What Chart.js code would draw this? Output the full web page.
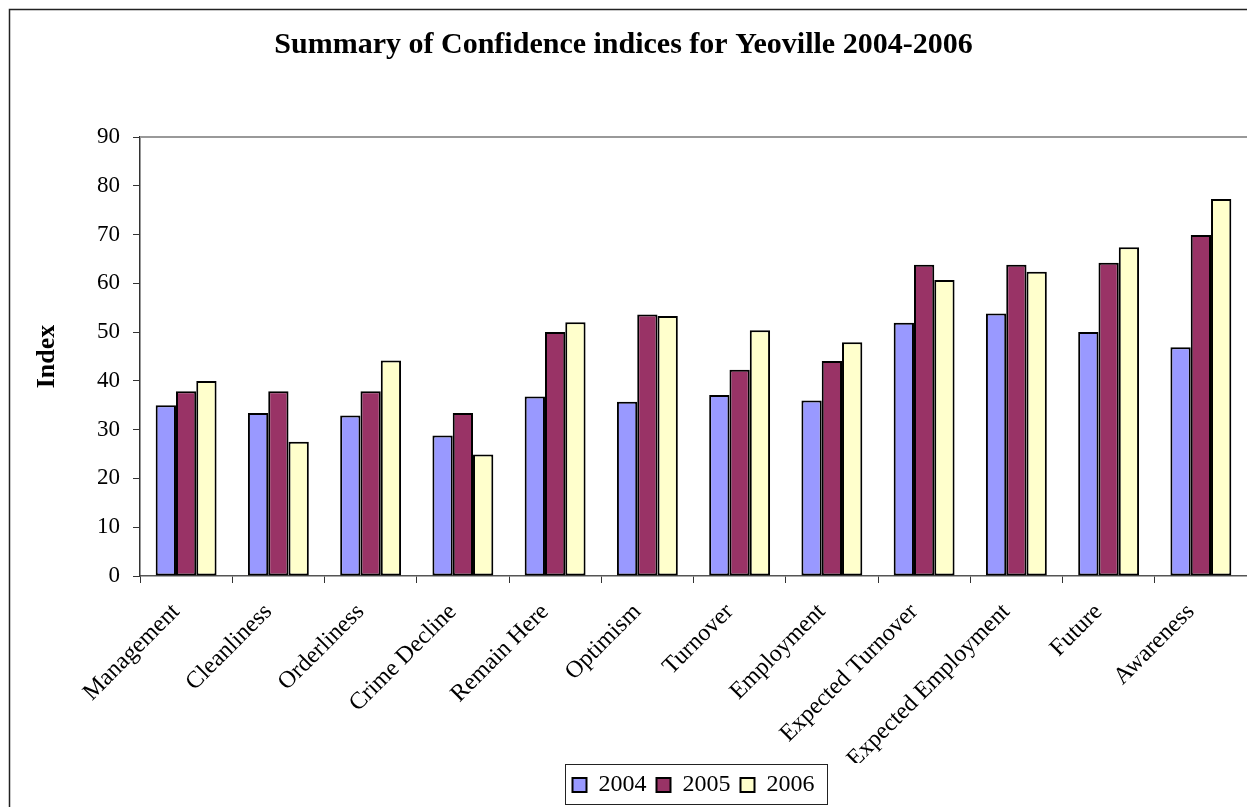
<!DOCTYPE html>
<html>
<head>
<meta charset="utf-8">
<title>Confidence indices Yeoville</title>
<script src="https://cdn.jsdelivr.net/npm/chart.js@4.4.1/dist/chart.umd.min.js"></script>
<style>
    html, body { margin: 0; padding: 0; background: #fff; }
    #wrap { width: 1247px; height: 807px; position: relative; }
</style>
</head>
<body>
<div id="wrap"><canvas id="confChart"></canvas></div>
<script>
// Chart data
const categories = ['Management', 'Cleanliness', 'Orderliness', 'Crime Decline', 'Remain Here', 'Optimism',
    'Turnover', 'Employment', 'Expected Turnover', 'Expected Employment', 'Future', 'Awareness'];
const values2004 = [35, 33.4, 32.9, 28.8, 36.8, 35.7, 37.1, 36.0, 51.9, 53.8, 50.0, 46.9];
const values2005 = [37.9, 37.9, 37.9, 33.4, 50.0, 53.6, 42.3, 44.1, 63.8, 63.8, 64.2, 69.9];
const values2006 = [40.0, 27.5, 44.2, 24.9, 52.0, 53.3, 50.4, 47.9, 60.7, 62.4, 67.4, 77.3];
const seriesNames = ['2004', '2005', '2006'];
const yTicks = [0, 10, 20, 30, 40, 50, 60, 70, 80, 90];

const serif = '"Liberation Serif", "Times New Roman", serif';
const legendHeight = 44; // padding + 24px item + padding

// frame, plot top line and legend box
const decorPlugin = {
    id: 'decor',
    beforeDraw(chart) {
        const ctx = chart.ctx;
        ctx.save();
        ctx.fillStyle = '#fff';
        ctx.fillRect(0, 0, chart.width, chart.height);
        ctx.strokeStyle = '#222';
        ctx.lineWidth = 1.5;
        ctx.strokeRect(9.5, 9.5, chart.width + 20, chart.height + 20);
        ctx.restore();
    },
    afterDraw(chart) {
        const ctx = chart.ctx;
        const area = chart.chartArea;
        ctx.save();
        ctx.strokeStyle = '#999';
        ctx.lineWidth = 2;
        ctx.beginPath();
        ctx.moveTo(area.left, area.top);
        ctx.lineTo(area.right, area.top);
        ctx.stroke();

        const boxes = chart.legend.legendHitBoxes;
        if (boxes && boxes.length) {
            const first = boxes[0];
            const last = boxes[boxes.length - 1];
            ctx.strokeStyle = '#222';
            ctx.lineWidth = 1;
            ctx.strokeRect(Math.round(first.left - 8) + 0.5, Math.round(first.top - 9) + 0.5,
                Math.round(last.left + last.width - first.left + 20), Math.round(first.height + 16));
        }
        ctx.restore();
    }
};

new Chart(document.getElementById('confChart'), {
    type: 'bar',
    data: {
        labels: categories,
        datasets: [
            { label: seriesNames[0], data: values2004, backgroundColor: '#9999FF' },
            { label: seriesNames[1], data: values2005, backgroundColor: '#993366' },
            { label: seriesNames[2], data: values2006, backgroundColor: '#FFFFCC' }
        ]
    },
    options: {
        responsive: true,
        maintainAspectRatio: false,
        animation: false,
        categoryPercentage: 0.66,
        barPercentage: 1,
        layout: { padding: { left: 0, right: 0, top: 0, bottom: 0 } },
        datasets: {
            bar: { borderColor: '#000', borderWidth: 2, borderSkipped: false }
        },
        plugins: {
            title: {
                display: true,
                text: 'Summary of Confidence indices for Yeoville 2004-2006',
                color: '#000',
                font: { family: serif, size: 30, weight: 'bold' },
                padding: { top: 27, bottom: 74 }
            },
            legend: {
                position: 'bottom',
                fullSize: false,
                labels: {
                    color: '#000',
                    font: { family: serif, size: 24 },
                    boxWidth: 14,
                    boxHeight: 14,
                    padding: 10,
                    generateLabels(chart) {
                        return chart.data.datasets.map((ds, i) => ({
                            text: ds.label,
                            fillStyle: ds.backgroundColor,
                            strokeStyle: '#000',
                            lineWidth: 2,
                            datasetIndex: i
                        }));
                    }
                }
            },
            tooltip: { enabled: false }
        },
        scales: {
            x: {
                grid: {
                    drawOnChartArea: false,
                    offset: true,
                    tickLength: 7,
                    color: '#333'
                },
                border: { color: '#555', width: 1.5 },
                ticks: {
                    color: '#000',
                    font: { family: serif, size: 24 },
                    minRotation: 45,
                    maxRotation: 45,
                    autoSkip: false,
                    padding: 15,
                    labelOffset: -10
                },
                afterFit(scale) {
                    scale.height = scale.chart.height - 576 - legendHeight;
                }
            },
            y: {
                min: 0,
                max: 90,
                afterBuildTicks(scale) {
                    scale.ticks = yTicks.map(v => ({ value: v }));
                },
                grid: {
                    drawOnChartArea: false,
                    tickLength: 7,
                    color: '#333'
                },
                border: { color: '#333', width: 1.5 },
                ticks: {
                    color: '#000',
                    font: { family: serif, size: 23 },
                    padding: 13
                },
                title: {
                    display: true,
                    text: 'Index',
                    color: '#000',
                    font: { family: serif, size: 26, weight: 'bold' },
                    padding: { top: 32, bottom: 0 }
                },
                afterFit(scale) {
                    scale.width = 140;
                }
            }
        }
    },
    plugins: [decorPlugin]
});
</script>
</body>
</html>
